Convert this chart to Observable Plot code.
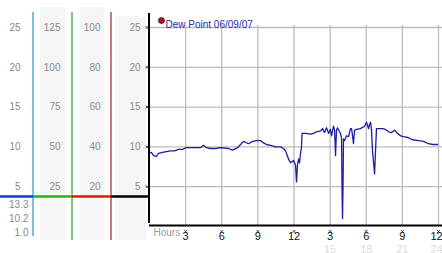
<!DOCTYPE html>
<html><head><meta charset="utf-8">
<script src="https://cdn.jsdelivr.net/npm/d3@7"></script>
<script src="https://cdn.jsdelivr.net/npm/@observablehq/plot@0.6"></script>
<style>html,body{margin:0;padding:0;background:#fff} svg{display:block}</style>
</head><body><div id="chart"></div>
<script>
const hours = [0,0.17,0.33,0.58,0.75,1.08,1.41,1.74,2.08,2.41,2.74,3.07,3.41,3.82,4.24,4.49,4.73,5.07,5.48,5.9,6.56,6.89,7.31,7.81,8.22,8.55,8.89,9.22,9.47,9.72,10.05,10.47,10.88,11.13,11.3,11.54,11.71,11.96,12.13,12.21,12.29,12.38,12.46,12.54,12.62,12.67,12.96,13.37,13.62,13.87,14.2,14.37,14.53,14.7,14.87,15.03,15.12,15.28,15.37,15.45,15.53,15.61,15.78,15.86,15.95,15.99,16.03,16.07,16.11,16.2,16.36,16.53,16.69,16.78,16.86,16.94,17.03,17.19,17.52,17.86,18.02,18.19,18.27,18.36,18.44,18.52,18.69,18.77,18.85,19.02,19.35,19.6,19.85,20.1,20.35,20.6,20.85,21.1,21.43,21.84,22.34,22.76,23.17,23.51,23.92];
const dewPoint = [9.2,9.3,8.9,8.8,9.2,9.3,9.4,9.5,9.5,9.7,9.7,9.9,9.9,9.9,9.9,10.2,9.9,9.8,9.8,9.9,9.8,9.6,9.9,10.7,10.4,10.7,10.8,10.8,10.5,10.3,10.2,10.0,10.0,9.8,9.5,8.5,8.0,8.3,7.7,5.6,7.7,8.5,8.0,9.2,9.9,11.7,11.7,11.6,11.7,11.9,12.0,12.3,11.8,12.4,11.7,12.2,11.4,12.6,12.1,8.9,12.1,12.4,11.9,11.7,11.1,4.8,1.0,5.0,11.0,10.8,11.4,11.3,12.3,12.3,11.4,10.4,12.1,12.2,12.3,12.6,13.1,12.3,12.8,13.1,12.1,9.5,6.6,9.5,12.3,12.3,12.3,12.2,11.9,11.8,12.1,11.7,11.4,11.3,11.2,10.9,10.8,10.7,10.4,10.3,10.3];

const yTicks = [5, 10, 15, 20, 25];
const col1Labels = ["5", "10", "15", "20", "25"];
const col2Labels = ["25", "50", "75", "100", "125"];
const col3Labels = ["20", "40", "60", "80", "100"];
const col4Labels = ["5", "10", "15", "20", "25"];
const lowerLabels = ["13.3", "10.2", "1.0"];
const xTicks = [3, 6, 9, 12, 15, 18, 21, 24];
const xTickLabels = ["3", "6", "9", "12", "3", "6", "9", "12"];
const xTicks2 = [15, 18, 21, 24];
const xTickLabels2 = ["15", "18", "21", "24"];
const legendTitle = "Dew Point 06/09/07";
const axisTitle = "Hours";

const data = hours.map((h, i) => ({hour: h, value: dewPoint[i]}));
const tickRows = xTicks.map((t, i) => ({hour: t, label: xTickLabels[i]}));
const tickRows2 = xTicks2.map((t, i) => ({hour: t, label: xTickLabels2[i]}));

function decorBack(index, scales, values, dim) {
  const g = d3.create("svg:g");
  [[40, 65, 7], [80, 104, 7], [115, 146, 16]].forEach(([a, b, t]) => {
    g.append("rect").attr("x", a).attr("y", t).attr("width", b - a).attr("height", 240 - t).attr("fill", "#f5f5f5");
  });
  return g.node();
}
function decorFront(index, scales, values, dim) {
  const g = d3.create("svg:g");
  const lines = [[33, 12, 236, "#2a8fd4", 1.2], [72, 12, 240, "#2ea02e", 1.2], [111, 12, 240, "#a82222", 1.2], [149, 13, 223, "#000", 2]];
  lines.forEach(([x, a, b, c, w]) => g.append("line").attr("x1", x).attr("x2", x).attr("y1", a).attr("y2", b).attr("stroke", c).attr("stroke-width", w));
  const segs = [[0, 33, "#1a3ad6"], [33, 72, "#22b022"], [72, 111, "#e01515"], [111, 149, "#000"]];
  segs.forEach(([a, b, c]) => g.append("line").attr("x1", a).attr("x2", b).attr("y1", 196.5).attr("y2", 196.5).attr("stroke", c).attr("stroke-width", 2.5));
  return g.node();
}

const lowerOffsets = [-19, -5, 9];
const last = d => d.hour === 24;
const notLast = d => d.hour !== 24;

const chart = Plot.plot({
  width: 442, height: 253,
  marginLeft: 149, marginRight: 4, marginTop: 27, marginBottom: 27,
  style: {background: "#fff", fontFamily: "'Liberation Sans', Arial, sans-serif", fontSize: "10px"},
  x: {domain: [0, 24], axis: null},
  y: {domain: [0, 25], axis: null},
  marks: [
    decorBack,
    Plot.ruleY(yTicks, {stroke: "#bcbcbc", strokeWidth: 1.3, insetRight: -4}),
    Plot.ruleX(xTicks, {stroke: "#bcbcbc", strokeWidth: 1.3, y1: 0, y2: 25.25}),
    Plot.ruleY([0], {stroke: "#000", strokeWidth: 2, insetRight: -4, dy: -1}),
    Plot.line(data, {x: "hour", y: "value", stroke: "#1c1ca8", strokeWidth: 1.3}),
    decorFront,
    Plot.text(yTicks, {y: d => d, text: (d, i) => col1Labels[i], frameAnchor: "left", dx: -129, textAnchor: "end", fill: "#8a8a8a"}),
    Plot.text(yTicks, {y: d => d, text: (d, i) => col2Labels[i], frameAnchor: "left", dx: -89, textAnchor: "end", fill: "#8a8a8a"}),
    Plot.text(yTicks, {y: d => d, text: (d, i) => col3Labels[i], frameAnchor: "left", dx: -49, textAnchor: "end", fill: "#8a8a8a"}),
    Plot.text(yTicks, {y: d => d, text: (d, i) => col4Labels[i], frameAnchor: "left", dx: -9, textAnchor: "end", fill: "#8a8a8a"}),
    ...lowerLabels.map((t, i) => Plot.text([t], {text: d => d, frameAnchor: "bottom-left", dx: -121, dy: lowerOffsets[i], textAnchor: "end", fill: "#8a8a8a"})),
    Plot.dot(yTicks, {y: d => d, frameAnchor: "left", dx: -2.5, symbol: "times", r: 1.4, stroke: "#444", strokeWidth: 1}),
    Plot.dot(xTicks, {x: d => d, frameAnchor: "bottom", dy: 5, symbol: "times", r: 1.4, stroke: "#444", strokeWidth: 1}),
    Plot.text(tickRows, {filter: notLast, x: "hour", text: "label", frameAnchor: "bottom", dy: 13, fill: "#111", fontSize: 11}),
    Plot.text(tickRows, {filter: last, x: "hour", text: "label", frameAnchor: "bottom", dy: 13, dx: -2, fill: "#111", fontSize: 11}),
    Plot.text(tickRows2, {filter: notLast, x: "hour", text: "label", frameAnchor: "bottom", dy: 26, fill: "#dcdcdc", fontSize: 11}),
    Plot.text(tickRows2, {filter: last, x: "hour", text: "label", frameAnchor: "bottom", dy: 26, dx: -2, fill: "#dcdcdc", fontSize: 11}),
    Plot.text([axisTitle], {frameAnchor: "bottom-left", dx: 4, dy: 9, textAnchor: "start", fill: "#9a9a9a", fontSize: 10}),
    Plot.dot([legendTitle], {frameAnchor: "top-left", dx: 12, dy: -7, r: 3, fill: "#a01818", stroke: "#5a0a0a", strokeWidth: 0.8}),
    Plot.text([legendTitle], {frameAnchor: "top-left", dx: 16, dy: -7, textAnchor: "start", fill: "#2a2ab4", fontSize: 10})
  ]
});
document.getElementById("chart").append(chart);
</script>
</body></html>
